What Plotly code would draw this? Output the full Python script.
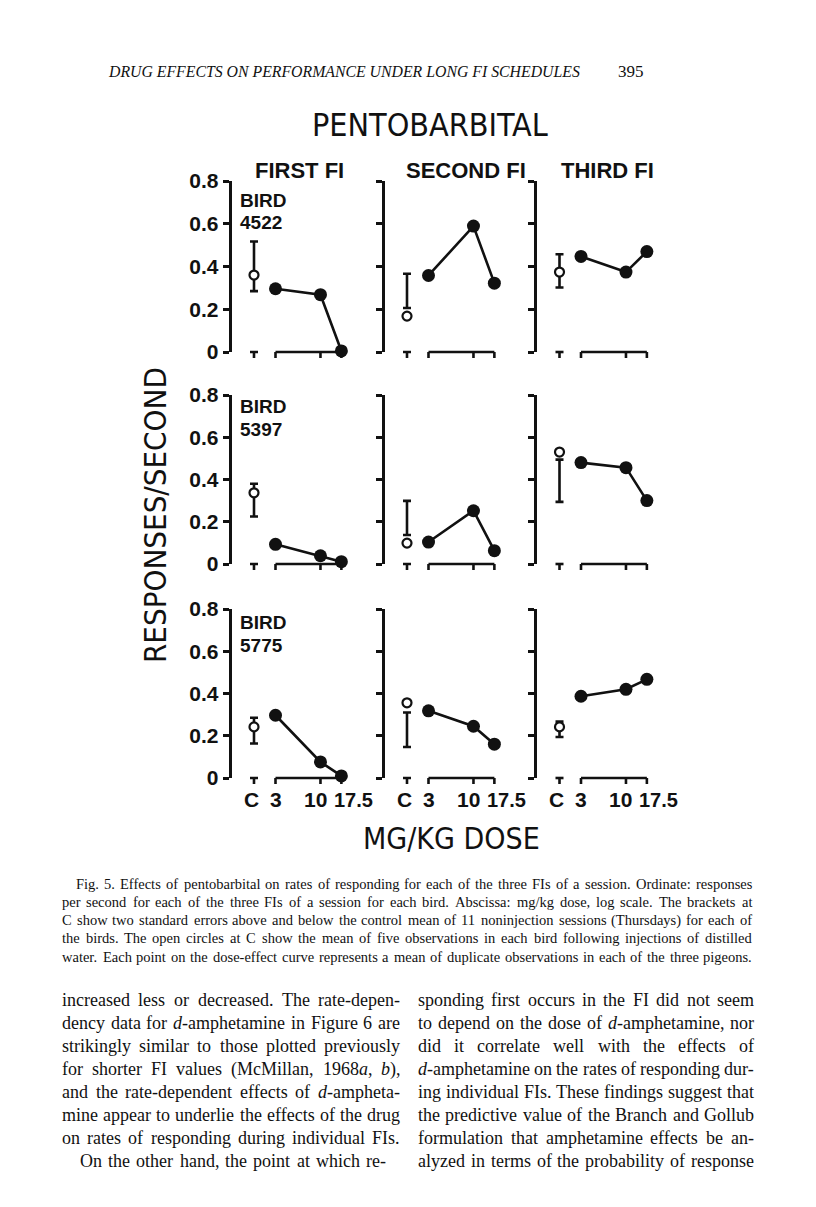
import re
import numpy as np
import plotly.graph_objects as go

# ---------------- data ----------------
birds = ["4522", "5397", "5775"]
fi_labels = ["FIRST FI", "SECOND FI", "THIRD FI"]
doses = [3, 10, 17.5]
dose_labels = ["3", "10", "17.5"]
control_label = "C"

# responses/second at 3, 10, 17.5 mg/kg  -> [FI1, FI2, FI3]
rates_4522 = [[0.296, 0.268, 0.005], [0.358, 0.589, 0.322], [0.447, 0.374, 0.470]]
rates_5397 = [[0.093, 0.039, 0.011], [0.104, 0.252, 0.063], [0.480, 0.456, 0.300]]
rates_5775 = [[0.297, 0.076, 0.010], [0.318, 0.245, 0.160], [0.387, 0.420, 0.467]]

# open circles at C: mean after distilled water  -> [FI1, FI2, FI3]
water_4522 = [0.360, 0.168, 0.374]
water_5397 = [0.337, 0.099, 0.530]
water_5775 = [0.242, 0.356, 0.242]

# brackets at C: control mean +/- 2 SE (low, high)  -> [FI1, FI2, FI3]
ctrl_low_4522 = [0.285, 0.206, 0.302]
ctrl_high_4522 = [0.517, 0.366, 0.457]
ctrl_low_5397 = [0.225, 0.137, 0.294]
ctrl_high_5397 = [0.380, 0.299, 0.494]
ctrl_low_5775 = [0.163, 0.147, 0.194]
ctrl_high_5775 = [0.285, 0.310, 0.267]

y_ticks = [0, 0.2, 0.4, 0.6, 0.8]
y_ticktext = ["0", "0.2", "0.4", "0.6", "0.8"]

rates = [rates_4522, rates_5397, rates_5775]
water = [water_4522, water_5397, water_5775]
ctrl_low = [ctrl_low_4522, ctrl_low_5397, ctrl_low_5775]
ctrl_high = [ctrl_high_4522, ctrl_high_5397, ctrl_high_5775]

header = "DRUG EFFECTS ON PERFORMANCE UNDER LONG FI SCHEDULES"
page_no = "395"
main_title = "PENTOBARBITAL"
y_title = "RESPONSES/SECOND"
x_title = "MG/KG DOSE"

caption_lines = [
    "Fig. 5. Effects of pentobarbital on rates of responding for each of the three FIs of a session. Ordinate: responses",
    "per second for each of the three FIs of a session for each bird. Abscissa: mg/kg dose, log scale. The brackets at",
    "C show two standard errors above and below the control mean of 11 noninjection sessions (Thursdays) for each of",
    "the birds. The open circles at C show the mean of five observations in each bird following injections of distilled",
    "water. Each point on the dose-effect curve represents a mean of duplicate observations in each of the three pigeons.",
]
left_col = [
    "increased less or decreased. The rate-depen-",
    "dency data for <i>d</i>-amphetamine in Figure 6 are",
    "strikingly similar to those plotted previously",
    "for shorter FI values (McMillan, 1968<i>a</i>, <i>b</i>),",
    "and the rate-dependent effects of <i>d</i>-ampheta-",
    "mine appear to underlie the effects of the drug",
    "on rates of responding during individual FIs.",
    "On the other hand, the point at which re-",
]
right_col = [
    "sponding first occurs in the FI did not seem",
    "to depend on the dose of <i>d</i>-amphetamine, nor",
    "did it correlate well with the effects of",
    "<i>d</i>-amphetamine on the rates of responding dur-",
    "ing individual FIs. These findings suggest that",
    "the predictive value of the Branch and Gollub",
    "formulation that amphetamine effects be an-",
    "alyzed in terms of the probability of response",
]

# ---------------- layout geometry ----------------
W, H = 816, 1207
PAGE_OFF = 8          # the page body places the figure 8 px in from the window corner
col_axis_px = [231.5, 384.5, 537.0]
row_top_px = [181, 395, 609]
row_bot_px = [352, 564, 778]
PX_DEC = 86.0
PANEL_W = 125.0
x_start = np.log10(3) - 44 / PX_DEC
c_pos = np.log10(3) - 21.5 / PX_DEC
log_doses = np.log10(doses)

INK = "#111111"
SANS = "Liberation Sans, Arial, sans-serif"
NARROW = "Liberation Sans Narrow, DejaVu Sans Condensed, Arial Narrow, sans-serif"
SERIF = "Liberation Serif, Times New Roman, serif"

# Times-Roman advance widths (per em) for justifying the serif text
_TW = {' ': .25, ',': .25, '.': .25, '-': .333, '(': .333, ')': .333, ':': .278, '/': .278,
       'A': .722, 'B': .667, 'C': .667, 'D': .722, 'E': .611, 'F': .556, 'G': .722, 'H': .722,
       'I': .333, 'J': .389, 'K': .722, 'L': .611, 'M': .889, 'N': .722, 'O': .722, 'P': .556,
       'Q': .722, 'R': .667, 'S': .556, 'T': .611, 'U': .722, 'V': .722, 'W': .944, 'X': .722,
       'Y': .722, 'Z': .611,
       'a': .444, 'b': .5, 'c': .444, 'd': .5, 'e': .444, 'f': .333, 'g': .5, 'h': .5, 'i': .278,
       'j': .278, 'k': .5, 'l': .278, 'm': .778, 'n': .5, 'o': .5, 'p': .5, 'q': .5, 'r': .333,
       's': .389, 't': .278, 'u': .5, 'v': .5, 'w': .722, 'x': .5, 'y': .5, 'z': .444}


def word_w(word, size):
    plain = re.sub(r"<[^>]+>", "", word)
    return sum(_TW.get(ch, .5) for ch in plain) * size


def px(xp):
    return (xp - PAGE_OFF) / W


def py(yp):
    return 1 - (yp - PAGE_OFF) / H


fig = go.Figure()
layout_axes = {}
shapes = []
annotations = []


def justified(line, x_left, x_right, y_px, size, family=SERIF):
    words = line.split(" ")
    widths = [word_w(w, size) for w in words]
    gaps = len(words) - 1
    gap = max((x_right - x_left - sum(widths)) / gaps, 0.12 * size) if gaps else 0
    xcur = x_left
    for w, wd in zip(words, widths):
        annotations.append(dict(text=w, x=px(xcur), y=py(y_px), xref="paper", yref="paper",
                                xanchor="left", yanchor="middle", showarrow=False,
                                borderpad=0, borderwidth=0,
                                font=dict(family=family, size=size, color=INK)))
        xcur += wd + gap


for r in range(3):
    for c in range(3):
        k = r * 3 + c + 1
        xa = "x" if k == 1 else f"x{k}"
        ya = "y" if k == 1 else f"y{k}"
        xkey = "xaxis" if k == 1 else f"xaxis{k}"
        ykey = "yaxis" if k == 1 else f"yaxis{k}"

        lo, hi = ctrl_low[r][c], ctrl_high[r][c]
        mid = (lo + hi) / 2
        # control bracket (+/- 2 SE)
        fig.add_trace(go.Scatter(
            x=[c_pos], y=[mid], mode="markers",
            marker=dict(size=2, color="rgba(0,0,0,0)"),
            error_y=dict(type="data", symmetric=False, array=[hi - mid],
                         arrayminus=[mid - lo], color=INK, thickness=2.6, width=4),
            xaxis=xa, yaxis=ya, showlegend=False, hoverinfo="skip", cliponaxis=False))
        # open circle: distilled water
        fig.add_trace(go.Scatter(
            x=[c_pos], y=[water[r][c]], mode="markers",
            marker=dict(size=9, color="white", line=dict(color=INK, width=2.2)),
            xaxis=xa, yaxis=ya, showlegend=False, cliponaxis=False))
        # dose-effect curve
        fig.add_trace(go.Scatter(
            x=log_doses, y=rates[r][c], mode="lines+markers",
            line=dict(color=INK, width=2.6),
            marker=dict(size=13, color=INK),
            xaxis=xa, yaxis=ya, showlegend=False, cliponaxis=False))

        a = col_axis_px[c]
        layout_axes[xkey] = dict(
            domain=[px(a), px(a + PANEL_W)],
            range=[x_start, x_start + PANEL_W / PX_DEC],
            visible=False, anchor=ya, fixedrange=True, automargin=False)
        layout_axes[ykey] = dict(
            domain=[py(row_bot_px[r]), py(row_top_px[r])],
            range=[0, 0.8], anchor=xa, automargin=False,
            showline=True, linewidth=2.6, linecolor=INK,
            ticks="outside", ticklen=6, tickwidth=2.6, tickcolor=INK,
            tickvals=y_ticks, ticktext=y_ticktext,
            showticklabels=(c == 0),
            tickfont=dict(family=SANS, size=21, color=INK, weight="bold"),
            showgrid=False, zeroline=False, fixedrange=True)

        # broken abscissa: short "T" at C, bracket spanning the doses
        tick_len = 6 / (row_bot_px[r] - row_top_px[r])
        half = 4 / PX_DEC
        yref = f"{ya} domain"
        line_st = dict(color=INK, width=2.6)
        shapes.append(dict(type="line", xref=xa, yref=yref, x0=c_pos - half, x1=c_pos + half,
                           y0=0, y1=0, line=line_st))
        shapes.append(dict(type="line", xref=xa, yref=yref, x0=c_pos, x1=c_pos,
                           y0=0, y1=-tick_len, line=line_st))
        shapes.append(dict(type="line", xref=xa, yref=yref, x0=log_doses[0], x1=log_doses[-1],
                           y0=0, y1=0, line=line_st))
        for ld in log_doses:
            shapes.append(dict(type="line", xref=xa, yref=yref, x0=ld, x1=ld,
                               y0=0, y1=-tick_len, line=line_st))

        # abscissa labels on the bottom row
        if r == 2:
            labels = [control_label] + dose_labels
            xs = [c_pos] + list(log_doses)
            shifts = [-3, 0, -5, 12]
            for lab, xv, sh in zip(labels, xs, shifts):
                annotations.append(dict(
                    text=lab, x=xv, y=py(800), xref=xa, yref="paper",
                    xanchor="center", yanchor="middle", xshift=sh, showarrow=False,
                    font=dict(family=SANS, size=21 if lab != "17.5" else 20, color=INK,
                              weight="bold")))

# bird labels
bird_y = [(201, 222), (407, 429), (622, 645)]
for r in range(3):
    for j, txt in enumerate(["BIRD", birds[r]]):
        annotations.append(dict(text=txt, x=px(238), y=py(bird_y[r][j]), xref="paper",
                                yref="paper", xanchor="left", yanchor="middle", showarrow=False,
                                font=dict(family=SANS, size=19, color=INK, weight="bold")))

# FI column titles
for c, cx in enumerate([299, 466, 607]):
    annotations.append(dict(text=fi_labels[c], x=px(cx), y=py(171), xref="paper", yref="paper",
                            xanchor="center", yanchor="middle", showarrow=False,
                            font=dict(family=SANS, size=22, color=INK, weight="bold")))

# titles
annotations.append(dict(text=main_title, x=px(430), y=py(125), xref="paper", yref="paper",
                        xanchor="center", yanchor="middle", showarrow=False,
                        font=dict(family=NARROW, size=32, color=INK)))
annotations.append(dict(text=x_title, x=px(452), y=py(838), xref="paper", yref="paper",
                        xanchor="center", yanchor="middle", showarrow=False,
                        font=dict(family=NARROW, size=30, color=INK)))
annotations.append(dict(text=y_title, x=px(155), y=py(515), xref="paper", yref="paper",
                        xanchor="center", yanchor="middle", showarrow=False, textangle=-90,
                        font=dict(family=NARROW, size=31, color=INK)))

# running header
annotations.append(dict(text=f"<i>{header}</i>", x=px(106), y=py(72), xref="paper", yref="paper",
                        xanchor="left", yanchor="middle", showarrow=False,
                        font=dict(family=SERIF, size=15.8, color=INK)))
annotations.append(dict(text=page_no, x=px(616), y=py(72), xref="paper", yref="paper",
                        xanchor="left", yanchor="middle", showarrow=False,
                        font=dict(family=SERIF, size=17, color=INK)))

# caption (justified)
cap_y = [884, 902, 920, 938, 957]
for i, line in enumerate(caption_lines):
    justified(line, 76 if i == 0 else 62, 752, cap_y[i], 14.5)

# body text, two justified columns
for i in range(8):
    yv = 1000 + 23 * i
    if i == 7:
        justified(left_col[i], 80, 386, yv, 18)
    else:
        justified(left_col[i], 62, 400, yv, 18)
    justified(right_col[i], 418, 754, yv, 18)

fig.update_layout(
    width=W, height=H,
    autosize=False,
    margin=dict(l=0, r=0, t=0, b=0, pad=0, autoexpand=False),
    paper_bgcolor="white", plot_bgcolor="white",
    showlegend=False,
    shapes=shapes,
    annotations=annotations,
    **layout_axes,
)

fig.write_html("out.html")
